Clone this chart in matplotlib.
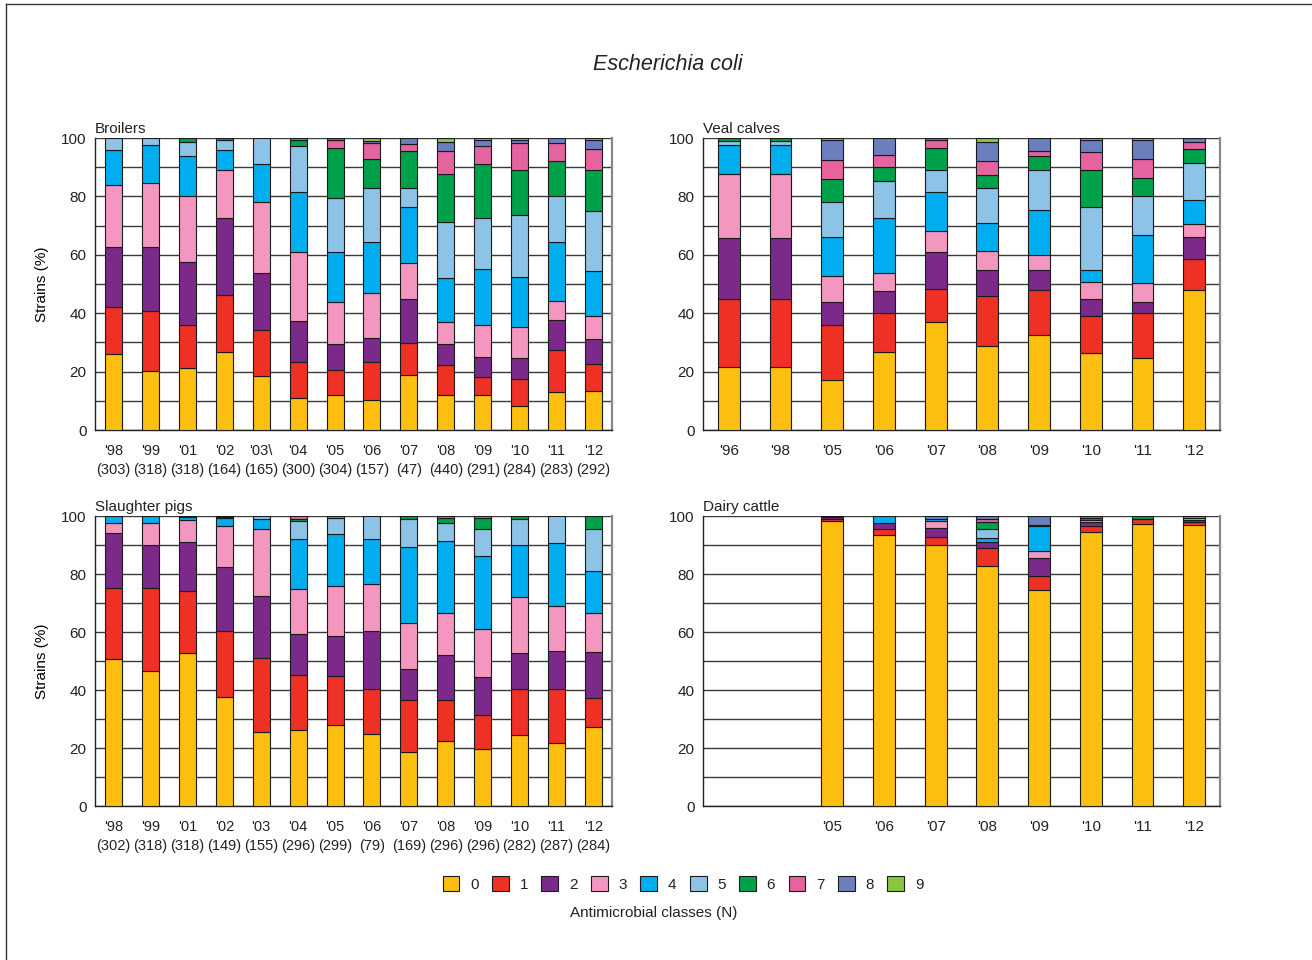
import matplotlib
matplotlib.use("Agg")
import matplotlib.pyplot as plt
from matplotlib.patches import Patch
from matplotlib.lines import Line2D
from matplotlib import font_manager

# ---------------- data ----------------
class_labels = ["0", "1", "2", "3", "4", "5", "6", "7", "8", "9"]
class_colors = ["#FDC010", "#EE3124", "#7B2A8A", "#F497C0", "#00AEEF",
                "#8EC3E8", "#00A14B", "#E5649F", "#6B7FBF", "#8CC63F"]

broilers_years = ["'98", "'99", "'01", "'02", "'03\\", "'04", "'05", "'06", "'07",
                  "'08", "'09", "'10", "'11", "'12"]
broilers_n = ["(303)", "(318)", "(318)", "(164)", "(165)", "(300)", "(304)", "(157)",
              "(47)", "(440)", "(291)", "(284)", "(283)", "(292)"]
broilers_values = [
    [26.0, 16.0, 20.8, 21.2, 12.0, 4.0],
    [20.1, 20.8, 21.9, 21.8, 13.1, 2.3],
    [21.2, 14.7, 21.5, 22.9, 13.7, 4.7, 1.3],
    [26.6, 19.8, 26.2, 16.3, 7.1, 3.4, 0.6],
    [18.5, 15.8, 19.6, 24.1, 13.2, 8.8],
    [10.8, 12.6, 14.1, 23.5, 20.4, 15.7, 2.1, 0.8],
    [11.9, 8.7, 8.8, 14.3, 17.3, 18.6, 17.1, 2.5, 0.8],
    [10.3, 13.1, 8.1, 15.4, 17.4, 18.6, 9.8, 5.7, 0.5, 1.1],
    [19.0, 10.9, 14.8, 12.5, 19.2, 6.5, 12.7, 2.2, 2.2],
    [11.9, 10.2, 7.2, 7.8, 14.8, 19.4, 16.5, 7.8, 3.1, 1.3],
    [11.9, 6.1, 7.0, 10.9, 19.1, 17.6, 18.6, 6.2, 2.0, 0.6],
    [8.2, 9.1, 7.2, 10.8, 17.0, 21.2, 15.4, 9.5, 0.8, 0.8],
    [13.0, 14.4, 10.2, 6.5, 20.2, 15.9, 12.0, 6.2, 1.6],
    [13.5, 9.0, 8.5, 8.0, 15.5, 20.4, 14.3, 7.2, 3.0, 0.6],
]

veal_years = ["'96", "'98", "'05", "'06", "'07", "'08", "'09", "'10", "'11", "'12"]
veal_values = [
    [21.5, 23.2, 21.0, 21.9, 10.0, 1.4, 1.0],
    [21.5, 23.2, 21.0, 21.9, 10.0, 1.4, 1.0],
    [17.1, 19.0, 7.9, 8.6, 13.5, 12.1, 7.9, 6.5, 6.8, 0.6],
    [26.6, 13.5, 7.5, 6.1, 18.9, 12.7, 4.8, 4.2, 5.7],
    [37.1, 11.1, 12.9, 7.1, 13.4, 7.5, 7.6, 2.7, 0.6],
    [28.9, 17.0, 8.9, 6.6, 9.5, 11.9, 4.6, 4.6, 6.6, 1.4],
    [32.4, 15.5, 7.0, 5.0, 15.6, 13.4, 4.8, 1.8, 4.5],
    [26.3, 12.7, 5.7, 6.1, 4.1, 21.4, 12.8, 6.0, 4.3, 0.6],
    [24.5, 15.5, 3.8, 6.5, 16.6, 13.1, 6.4, 6.5, 6.4, 0.7],
    [48.0, 10.6, 7.5, 4.5, 8.1, 12.7, 4.9, 2.4, 1.3],
]

pigs_years = ["'98", "'99", "'01", "'02", "'03", "'04", "'05", "'06", "'07",
              "'08", "'09", "'10", "'11", "'12"]
pigs_n = ["(302)", "(318)", "(318)", "(149)", "(155)", "(296)", "(299)", "(79)",
          "(169)", "(296)", "(296)", "(282)", "(287)", "(284)"]
pigs_values = [
    [50.7, 24.6, 19.0, 3.4, 2.3],
    [46.4, 28.9, 14.6, 7.8, 2.3],
    [52.8, 21.4, 16.9, 7.6, 0.9, 0.4],
    [37.6, 22.9, 21.9, 14.2, 2.6, 0.4, 0.4],
    [25.5, 25.6, 21.4, 22.9, 3.5, 1.1],
    [26.2, 19.1, 14.0, 15.4, 17.5, 6.0, 0.8, 1.0],
    [27.8, 16.9, 13.9, 17.1, 18.2, 5.4, 0.0, 0.7],
    [25.0, 15.2, 20.3, 16.2, 15.4, 7.9],
    [18.5, 18.1, 10.7, 15.8, 26.3, 9.7, 0.9],
    [22.3, 14.2, 15.4, 14.6, 25.0, 6.2, 1.5, 0.8],
    [19.7, 11.8, 13.1, 16.4, 25.2, 9.3, 3.7, 0.8],
    [24.5, 15.7, 12.6, 19.2, 18.1, 8.9, 1.0],
    [21.7, 18.5, 13.2, 15.4, 21.9, 9.3],
    [27.4, 9.9, 15.8, 13.4, 14.5, 14.5, 4.5],
]

dairy_years = ["", "", "'05", "'06", "'07", "'08", "'09", "'10", "'11", "'12"]
dairy_values = [
    [],
    [],
    [98.3, 0.8, 0.4, 0.5],
    [93.4, 2.0, 2.1, 0.0, 2.5],
    [89.9, 3.0, 3.1, 2.3, 0.6, 0.0, 0.0, 0.0, 1.1],
    [82.7, 6.2, 2.2, 0.0, 1.3, 3.0, 2.4, 1.3, 0.9],
    [74.5, 4.9, 6.1, 2.4, 8.5, 0.5, 0.0, 0.0, 3.1],
    [94.4, 2.0, 1.5, 0.7, 0.0, 0.0, 0.7, 0.0, 0.7],
    [97.4, 1.5, 0.0, 0.0, 0.0, 0.0, 1.1],
    [97.0, 0.9, 0.7, 0.8, 0.0, 0.0, 0.0, 0.6],
]

# ---------------- fonts ----------------
def available(name):
    try:
        font_manager.findfont(font_manager.FontProperties(family=name),
                              fallback_to_default=False)
        return True
    except Exception:
        return False

if available("Liberation Sans Narrow"):
    FAM = ["Liberation Sans Narrow", "DejaVu Sans"]
    FS = 12
else:
    FAM = ["Liberation Sans", "DejaVu Sans"]
    FS = 10.5
plt.rcParams["font.family"] = FAM
plt.rcParams["text.color"] = "#222222"

W, H = 1312, 960
fig = plt.figure(figsize=(W / 100, H / 100), dpi=100)


def box(l, t, r, b):
    return [l / W, 1 - b / H, (r - l) / W, (b - t) / H]


def draw_panel(rect, labels, values, title, width, ylabel=False, xfs=None):
    ax = fig.add_axes(rect)
    n = len(labels)
    for i, vals in enumerate(values):
        bottom = 0.0
        for k, v in enumerate(vals):
            if v > 0:
                ax.bar(i, v, width=width, bottom=bottom, color=class_colors[k],
                       edgecolor="#1a1a1a", linewidth=0.8, zorder=3)
            bottom += v
    ax.set_xlim(-0.5, n - 0.5)
    ax.set_ylim(0, 100)
    ax.set_yticks([0, 20, 40, 60, 80, 100])
    ax.set_yticks(range(10, 101, 10), minor=True)
    ax.yaxis.grid(True, which="both", color="#3a3a3a", linewidth=1.0, zorder=0)
    ax.set_axisbelow(True)
    ax.set_xticks(range(n))
    ax.set_xticklabels(labels, linespacing=1.45)
    ax.tick_params(axis="both", which="both", length=0, labelsize=FS + 0.5,
                   colors="#222222")
    ax.tick_params(axis="x", pad=10, labelsize=xfs if xfs else FS + 0.5)
    ax.tick_params(axis="y", pad=6)
    for s in ["left", "bottom"]:
        ax.spines[s].set_color("#222222")
        ax.spines[s].set_linewidth(1.0)
    ax.spines["top"].set_visible(False)
    ax.spines["right"].set_color("#888888")
    ax.spines["right"].set_linewidth(1.6)
    ax.text(0.0, 1.008, title, transform=ax.transAxes, ha="left", va="bottom",
            fontsize=FS + 0.5)
    if ylabel:
        ax.set_ylabel("Strains (%)", fontsize=FS + 0.5, labelpad=9)
    return ax


draw_panel(box(95, 138, 612, 430),
           [f"{y}\n{c}" for y, c in zip(broilers_years, broilers_n)],
           broilers_values, "Broilers", 0.46, ylabel=True, xfs=FS)
draw_panel(box(703, 138, 1220, 430), veal_years, veal_values,
           "Veal calves", 0.42)
draw_panel(box(95, 516, 612, 806),
           [f"{y}\n{c}" for y, c in zip(pigs_years, pigs_n)],
           pigs_values, "Slaughter pigs", 0.46, ylabel=True, xfs=FS)
draw_panel(box(703, 516, 1220, 806), dairy_years, dairy_values,
           "Dairy cattle", 0.42)

# title
fig.text(668 / W, 1 - 65 / H, "Escherichia coli", ha="center", va="center",
         fontsize=FS + 5, style="italic")

# legend
handles = [Patch(facecolor=c, edgecolor="#1a1a1a", linewidth=0.8)
           for c in class_colors]
fig.legend(handles, class_labels, loc="center", ncol=10,
           bbox_to_anchor=(683 / W, 1 - 884 / H), frameon=False,
           fontsize=FS + 0.5, handlelength=1.1, handleheight=1.1,
           handletextpad=0.7, columnspacing=0.88)
fig.text(654 / W, 1 - 913 / H, "Antimicrobial classes (N)", ha="center",
         va="center", fontsize=FS + 0.5)

# outer frame lines (top and left)
fig.add_artist(Line2D([6 / W, 1.0], [1 - 4 / H, 1 - 4 / H],
                      transform=fig.transFigure, color="#333333", lw=1.0))
fig.add_artist(Line2D([6 / W, 6 / W], [0.0, 1 - 4 / H],
                      transform=fig.transFigure, color="#333333", lw=1.0))

fig.savefig("out.png", dpi=100, facecolor="white")
